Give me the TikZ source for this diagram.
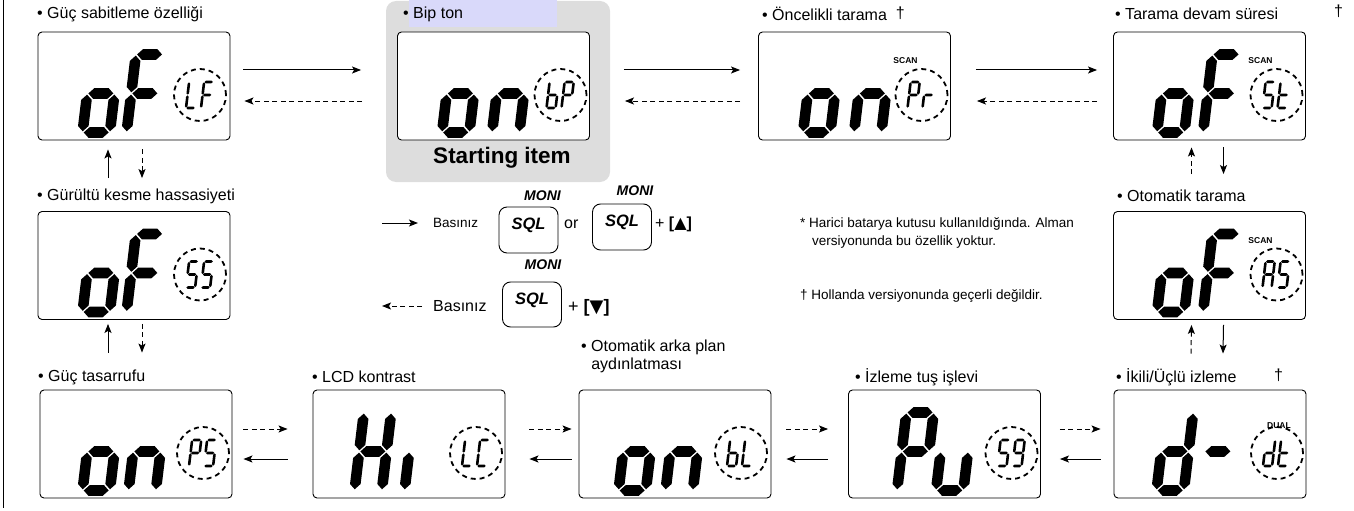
\documentclass[tikz,border=0pt]{standalone}
\usepackage{fontspec}
\setmainfont{Liberation Sans}
\newfontfamily\trifont{DejaVu Sans}
\usetikzlibrary{arrows.meta}

\definecolor{startgray}{RGB}{221,221,221}
\definecolor{bipblue}{RGB}{217,217,250}

% LCD 的段
\newcommand{\lcdw}{0.68}
\newcommand{\lcdh}[3]{\fill (#1,#3) -- (#1+\lcdw,#3+\lcdw) -- (#2-\lcdw,#3+\lcdw) -- (#2,#3) -- (#2-\lcdw,#3-\lcdw) -- (#1+\lcdw,#3-\lcdw) -- cycle;}
\newcommand{\lcdv}[3]{\fill (#1,#2) -- (#1+\lcdw,#2+\lcdw) -- (#1+\lcdw,#3-\lcdw) -- (#1,#3) -- (#1-\lcdw,#3-\lcdw) -- (#1-\lcdw,#2+\lcdw) -- cycle;}
\newcommand{\lcdsega}{\lcdh{0.15}{3.35}{10}}
\newcommand{\lcdsegg}{\lcdh{0.15}{3.35}{5}}
\newcommand{\lcdsegd}{\lcdh{0.15}{3.35}{0}}
\newcommand{\lcdsegf}{\lcdv{0}{5.15}{9.85}}
\newcommand{\lcdsegb}{\lcdv{3.5}{5.15}{9.85}}
\newcommand{\lcdsege}{\lcdv{0}{0.15}{4.85}}
\newcommand{\lcdsegc}{\lcdv{3.5}{0.15}{4.85}}
% #1 錨點, #2 #3 位移, #4 大小, #5 段
\newcommand{\lcdchar}[5]{%
  \begin{scope}[shift={(#1)}, shift={(#2pt,#3pt)}, x=#4pt, y=#4pt, xslant=0.12]
    \foreach \s in {#5} {\csname lcdseg\s\endcsname}
  \end{scope}}
% 圓內的小字
\newcommand{\ringchar}[3]{{\renewcommand{\lcdw}{0.5}\lcdchar{#1}{#2}{-13}{2.6}{#3}}}

\tikzset{
  lcd/.style={draw, fill=white, rounded corners=4pt, line width=0.9pt, minimum width=192pt, minimum height=108pt, inner sep=0pt},
  ring/.style={circle, draw, line width=1.8pt, dash pattern=on 5pt off 4pt, minimum size=52pt, inner sep=0pt},
  lbl/.style={anchor=west, inner sep=0pt, font=\fontsize{16}{18}\selectfont},
  fnote/.style={anchor=west, inner sep=0pt, font=\fontsize{13.5}{16}\selectfont},
  lcdtag/.style={inner sep=0pt, font=\fontsize{8.5}{9}\selectfont\bfseries},
  sqlkey/.style={draw, rounded corners=8pt, line width=0.9pt, minimum width=59pt, minimum height=46pt, inner sep=0pt},
  keytxt/.style={inner sep=0pt, font=\fontsize{16.5}{17}\selectfont\bfseries\itshape},
  moni/.style={inner sep=0pt, font=\fontsize{14}{14}\selectfont\bfseries\itshape},
  fwd/.style={line width=1pt, -{Stealth[length=9pt,width=7pt,inset=2pt]}},
  bwd/.style={fwd, dash pattern=on 5pt off 3.5pt},
}

\begin{document}
\begin{tikzpicture}[x=1pt, y=-1pt]
    \useasboundingbox (0,0) rectangle (1354,511);

    % 左邊線
    \draw[line width=1.3pt] (3.5,0) -- (3.5,508);

    % 起始項目
    \fill[startgray, rounded corners=10pt] (386,1) rectangle (610,182);
    \fill[bipblue] (409,0) rectangle (557,27);
    \node[font=\fontsize{22.5}{24}\selectfont\bfseries] (st) at (502,158) {Starting item};

    % 面板
    \node[lcd] (p1) at (134,86) {};
    \node[lcd] (p2) at (493.5,86) {};
    \node[lcd] (p3) at (854.5,86) {};
    \node[lcd] (p4) at (1209.5,86) {};
    \node[lcd] (p5) at (134,265.5) {};
    \node[lcd] (p6) at (1209.5,265.5) {};
    \node[lcd] (p7) at (136,444) {};
    \node[lcd] (p8) at (409,444) {};
    \node[lcd] (p9) at (675,444) {};
    \node[lcd] (p10) at (944.5,444) {};
    \node[lcd] (p11) at (1210,444) {};

    % 標籤
    \node[lbl] (l1) at (37,14) {• Güç sabitleme özelliği};
    \node[lbl] (l2) at (403,14) {• Bip ton};
    \node[lbl] (l3) at (762,14) {• Öncelikli tarama\hspace{9pt}\raisebox{2pt}{†}};
    \node[lbl] (l4) at (1115,14) {• Tarama devam süresi};
    \node[lbl] (d4) at (1334,11) {†};
    \node[lbl] (l5) at (37,196) {• Gürültü kesme hassasiyeti};
    \node[lbl] (l6) at (1117,196) {• Otomatik tarama};
    \node[lbl] (l7) at (38,377) {• Güç tasarrufu};
    \node[lbl] (l8) at (312,377) {• LCD kontrast};
    \node[lbl, align=left] (l9) at (581,356) {• Otomatik arka plan\\\hphantom{• }aydınlatması};
    \node[lbl] (l10) at (855,377) {• İzleme tuş işlevi};
    \node[lbl] (l11) at (1116,377) {• İkili/Üçlü izleme};
    \node[lbl] (d11) at (1274,375) {†};

    % 大數字
    \lcdchar{p1.south west}{45}{8}{7.8}{c,d,e,g}
    \lcdchar{p1.south west}{89}{8}{7.8}{a,e,f,g}
    \lcdchar{p2.south west}{45}{8}{7.8}{c,d,e,g}
    \lcdchar{p2.south west}{95}{8}{7.8}{c,e,g}
    \lcdchar{p3.south west}{45}{8}{7.8}{c,d,e,g}
    \lcdchar{p3.south west}{96}{8}{7.8}{c,e,g}
    \lcdchar{p4.south west}{44}{8}{7.8}{c,d,e,g}
    \lcdchar{p4.south west}{90}{8}{7.8}{a,e,f,g}
    \lcdchar{p5.south west}{45}{8}{7.8}{c,d,e,g}
    \lcdchar{p5.south west}{89}{8}{7.8}{a,e,f,g}
    \lcdchar{p6.south west}{44}{8}{7.8}{c,d,e,g}
    \lcdchar{p6.south west}{90}{8}{7.8}{a,e,f,g}
    \lcdchar{p7.south west}{43}{8}{7.8}{c,d,e,g}
    \lcdchar{p7.south west}{89}{8}{7.8}{c,e,g}
    \lcdchar{p8.south west}{42}{8}{7.8}{b,c,e,f,g}
    \lcdchar{p8.south west}{92}{8}{7.8}{e}
    \lcdchar{p9.south west}{40}{8}{7.8}{c,d,e,g}
    \lcdchar{p9.south west}{87}{8}{7.8}{c,e,g}
    \lcdchar{p10.south west}{49}{8}{7.8}{a,b,e,f,g}
    \lcdchar{p10.south west}{88}{8}{7.8}{c,d,e}
    \lcdchar{p11.south west}{43}{8}{7.8}{b,c,d,e,g}
    \lcdchar{p11.south west}{86}{8}{7.8}{g}

    % 虛線圓和小字
    \node[ring] (r1) at ([xshift=66pt,yshift=-9pt]p1.center) {};
    \node[ring] (r2) at ([xshift=67pt,yshift=-9pt]p2.center) {};
    \node[ring] (r3) at ([xshift=67pt,yshift=-9pt]p3.center) {};
    \node[ring] (r4) at ([xshift=67pt,yshift=-9pt]p4.center) {};
    \node[ring] (r5) at ([xshift=66pt,yshift=-9pt]p5.center) {};
    \node[ring] (r6) at ([xshift=67pt,yshift=-9pt]p6.center) {};
    \node[ring] (r7) at ([xshift=67pt,yshift=-9pt]p7.center) {};
    \node[ring] (r8) at ([xshift=67pt,yshift=-9pt]p8.center) {};
    \node[ring] (r9) at ([xshift=66pt,yshift=-9pt]p9.center) {};
    \node[ring] (r10) at ([xshift=67pt,yshift=-9pt]p10.center) {};
    \node[ring] (r11) at ([xshift=67pt,yshift=-9pt]p11.center) {};
    \ringchar{r1.center}{-14}{d,e,f}
    \ringchar{r1.center}{1}{a,e,f,g}
    \ringchar{r2.center}{-14}{c,d,e,f,g}
    \ringchar{r2.center}{1}{a,b,e,f,g}
    \ringchar{r3.center}{-14}{a,b,e,f,g}
    \ringchar{r3.center}{1}{e,g}
    \ringchar{r4.center}{-14}{a,c,d,f,g}
    \ringchar{r4.center}{1}{d,e,f,g}
    \ringchar{r5.center}{-14}{a,c,d,f,g}
    \ringchar{r5.center}{1}{a,c,d,f,g}
    \ringchar{r6.center}{-14}{a,b,c,e,f,g}
    \ringchar{r6.center}{1}{a,c,d,f,g}
    \ringchar{r7.center}{-14}{a,b,e,f,g}
    \ringchar{r7.center}{1}{a,c,d,f,g}
    \ringchar{r8.center}{-14}{d,e,f}
    \ringchar{r8.center}{1}{a,d,e,f}
    \ringchar{r9.center}{-14}{c,d,e,f,g}
    \ringchar{r9.center}{1}{d,e,f}
    \ringchar{r10.center}{-14}{a,c,d,f,g}
    \ringchar{r10.center}{1}{a,b,c,d,f,g}
    \ringchar{r11.center}{-14}{b,c,d,e,g}
    \ringchar{r11.center}{1}{d,e,f,g}
    \node[lcdtag] (s3) at ([xshift=-16pt,yshift=34pt]r3.center) {SCAN};
    \node[lcdtag] (s4) at ([xshift=-16pt,yshift=34pt]r4.center) {SCAN};
    \node[lcdtag] (s6) at ([xshift=-16pt,yshift=34pt]r6.center) {SCAN};
    \node[lcdtag] (s11) at ([xshift=2pt,yshift=27pt]r11.center) {DUAL};

    % 上排箭頭
    \draw[fwd] ([xshift=13pt,yshift=16pt]p1.east) -- ([xshift=-36pt,yshift=16pt]p2.west);
    \draw[bwd] ([xshift=-35pt,yshift=-15pt]p2.west) -- ([xshift=14pt,yshift=-15pt]p1.east);
    \draw[fwd] ([xshift=34pt,yshift=16pt]p2.east) -- ([xshift=-18pt,yshift=16pt]p3.west);
    \draw[bwd] ([xshift=-18pt,yshift=-15pt]p3.west) -- ([xshift=35pt,yshift=-15pt]p2.east);
    \draw[fwd] ([xshift=25pt,yshift=16pt]p3.east) -- ([xshift=-16pt,yshift=16pt]p4.west);
    \draw[bwd] ([xshift=-16pt,yshift=-15pt]p4.west) -- ([xshift=26pt,yshift=-15pt]p3.east);

    % 直向箭頭
    \draw[fwd] ([xshift=-26pt,yshift=33pt]p5.north) -- ([xshift=-26pt,yshift=-9pt]p1.south);
    \draw[bwd] ([xshift=8pt,yshift=-9pt]p1.south) -- ([xshift=8pt,yshift=33pt]p5.north);
    \draw[fwd] ([xshift=-28pt,yshift=37pt]p7.north) -- ([xshift=-26pt,yshift=-4pt]p5.south);
    \draw[bwd] ([xshift=8pt,yshift=-4pt]p5.south) -- ([xshift=6pt,yshift=37pt]p7.north);
    \draw[bwd] ([xshift=-18pt,yshift=37pt]p6.north) -- ([xshift=-18pt,yshift=-7pt]p4.south);
    \draw[fwd] ([xshift=14pt,yshift=-7pt]p4.south) -- ([xshift=14pt,yshift=37pt]p6.north);
    \draw[bwd] ([xshift=-19pt,yshift=36pt]p11.north) -- ([xshift=-18pt,yshift=-5pt]p6.south);
    \draw[fwd] ([xshift=14pt,yshift=-5pt]p6.south) -- ([xshift=13pt,yshift=36pt]p11.north);

    % 下排箭頭
    \draw[bwd] ([xshift=11pt,yshift=15pt]p7.east) -- ([xshift=-25pt,yshift=15pt]p8.west);
    \draw[fwd] ([xshift=-25pt,yshift=-15pt]p8.west) -- ([xshift=11pt,yshift=-15pt]p7.east);
    \draw[bwd] ([xshift=24pt,yshift=15pt]p8.east) -- ([xshift=-7pt,yshift=15pt]p9.west);
    \draw[fwd] ([xshift=-7pt,yshift=-15pt]p9.west) -- ([xshift=24pt,yshift=-15pt]p8.east);
    \draw[bwd] ([xshift=15pt,yshift=15pt]p9.east) -- ([xshift=-20pt,yshift=15pt]p10.west);
    \draw[fwd] ([xshift=-20pt,yshift=-15pt]p10.west) -- ([xshift=15pt,yshift=-15pt]p9.east);
    \draw[bwd] ([xshift=19pt,yshift=15pt]p10.east) -- ([xshift=-13pt,yshift=15pt]p11.west);
    \draw[fwd] ([xshift=-13pt,yshift=-15pt]p11.west) -- ([xshift=19pt,yshift=-15pt]p10.east);

    % 按鍵說明
    \coordinate (a1) at (382,223);
    \coordinate (a2) at (382,306);
    \node[fnote] (b1) at (433,223) {Basınız};
    \node[lbl] (b2) at (433,306) {Basınız};
    \draw[fwd] (a1) -- ([xshift=-15pt]b1.west);
    \draw[bwd] ([xshift=-11pt]b2.west) -- (a2);
    \node[sqlkey] (k1) at (528.5,230) {};
    \node[sqlkey] (k2) at (622,227) {};
    \node[sqlkey, minimum height=45pt] (k3) at (532,304.5) {};
    \node[keytxt] (q1) at ([yshift=5pt]k1.center) {SQL};
    \node[keytxt] (q2) at ([yshift=5pt]k2.center) {SQL};
    \node[keytxt] (q3) at ([yshift=4pt]k3.center) {SQL};
    \node[moni] (m1) at ([xshift=14pt,yshift=11pt]k1.north) {MONI};
    \node[moni] (m2) at ([xshift=13pt,yshift=13pt]k2.north) {MONI};
    \node[moni] (m3) at ([xshift=11pt,yshift=17pt]k3.north) {MONI};
    \node[lbl] (ortxt) at (564,224) {or};
    \node[lbl] (up) at (655,224) {+ \textbf{[}{\trifont ▲}\textbf{]}};
    \node[lbl, font=\fontsize{18}{20}\selectfont] (dn) at (568,308) {+ \textbf{[}{\trifont ▼}\textbf{]}};

    % 註解
    \node[fnote] (n1) at (800,224) {* Harici batarya kutusu kullanıldığında. Alman};
    \node[fnote] (n2) at (812,242) {versiyonunda bu özellik yoktur.};
    \node[fnote] (n3) at (800,296) {† Hollanda versiyonunda geçerli değildir.};
\end{tikzpicture}
\end{document}
